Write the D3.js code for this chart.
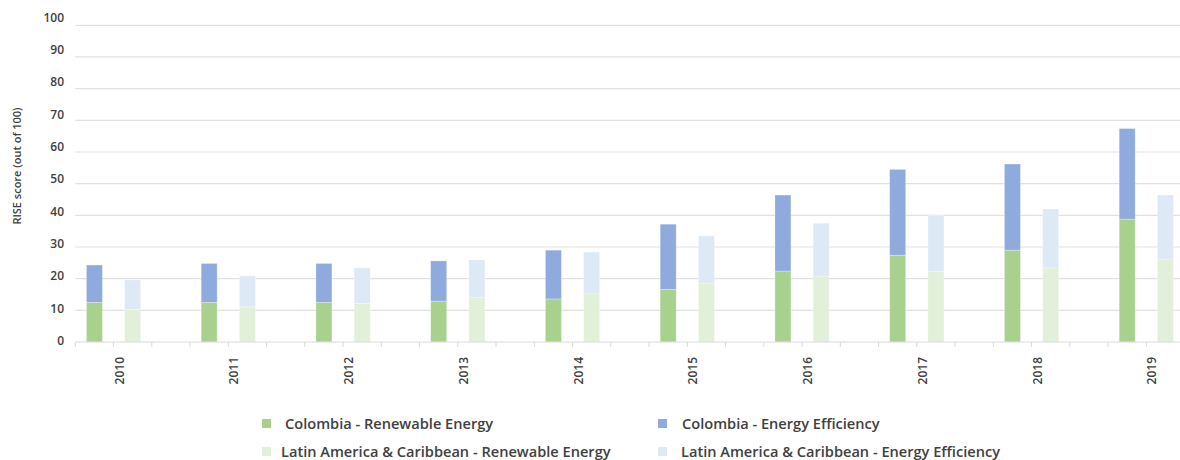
<!DOCTYPE html>
<html>
<head>
<meta charset="utf-8">
<script src="https://cdn.jsdelivr.net/npm/d3@7"></script>
<style>
  html, body { margin: 0; padding: 0; background: #fff; overflow: hidden; }
  svg { display: block; font-family: "Open Sans", "DejaVu Sans", sans-serif; }
</style>
</head>
<body>
<svg id="chart" width="1180" height="460"></svg>
<script>
// ---- Data ----
const years = ["2010","2011","2012","2013","2014","2015","2016","2017","2018","2019"];
const colombiaRenewable  = [12.5, 12.5, 12.5, 12.9, 13.6, 16.6, 22.4, 27.4, 29.0, 38.8];
const colombiaEfficiency = [11.8, 12.3, 12.3, 12.7, 15.4, 20.6, 24.0, 27.1, 27.2, 28.6];
const lacRenewable       = [10.3, 11.1, 12.2, 14.0, 15.2, 18.4, 20.8, 22.2, 23.4, 26.2];
const lacEfficiency      = [ 9.3,  9.8, 11.2, 11.9, 13.2, 15.1, 16.7, 17.8, 18.6, 20.2];
const yTicks = [0,10,20,30,40,50,60,70,80,90,100];
const legendItems = [
  "Colombia - Renewable Energy",
  "Colombia - Energy Efficiency",
  "Latin America & Caribbean - Renewable Energy",
  "Latin America & Caribbean - Energy Efficiency"
];
const yTitle = "RISE score (out of 100)";

// ---- Styles ----
const colors = ["#a9d18e", "#8faadc", "#e2efd9", "#dde9f5"];
const textColor = "#404040";
const gridColor = "#e1e1e1";

const svg = d3.select("#chart");

const left = 75.3, slot = 38.25;
const x0 = d3.scaleBand().domain(years).range([left, left + slot * 3 * years.length]);
const x1 = d3.scaleBand().domain(["col","lac","gap"]).range([0, x0.bandwidth()]);
const y = d3.scaleLinear().domain([0, 100]).range([342, 25.3]);
const yLab = d3.scaleLinear().domain([0, 100]).range([340.5, 17.5]);
const barW = 16;

// gridlines
svg.append("g").selectAll("line").data(yTicks.filter(d => d > 0)).join("line")
  .attr("x1", left).attr("x2", 1185)
  .attr("y1", d => y(d)).attr("y2", d => y(d))
  .attr("stroke", gridColor).attr("stroke-width", 1.2);

// y labels
svg.append("g").selectAll("text").data(yTicks).join("text")
  .attr("x", 64).attr("y", d => yLab(d)).attr("dy", "0.36em")
  .attr("text-anchor", "end")
  .attr("font-size", 12).attr("font-weight", 600).attr("fill", textColor)
  .text(d => d);

// y title
svg.append("text")
  .attr("transform", "translate(21,166) rotate(-90)")
  .attr("text-anchor", "middle")
  .attr("font-size", 11).attr("font-weight", 600).attr("fill", textColor)
  .text(yTitle);

// bars
const stacks = [
  {key: "col", parts: [colombiaRenewable, colombiaEfficiency], cols: [colors[0], colors[1]]},
  {key: "lac", parts: [lacRenewable, lacEfficiency], cols: [colors[2], colors[3]]}
];
const barsG = svg.append("g");
years.forEach((yr, i) => {
  stacks.forEach(s => {
    const cx = x0(yr) + x1(s.key) + x1.bandwidth() / 2;
    let base = 0;
    s.parts.forEach((arr, j) => {
      const v = arr[i];
      barsG.append("rect")
        .attr("x", cx - barW / 2)
        .attr("width", barW)
        .attr("y", y(base + v))
        .attr("height", y(base) - y(base + v))
        .attr("fill", s.cols[j])
        .attr("stroke", "#ffffff").attr("stroke-opacity", 0.35).attr("stroke-width", 0.8);
      base += v;
    });
  });
});

// x axis baseline + ticks
const xAxisG = svg.append("g");
xAxisG.append("line").attr("x1", left).attr("x2", 1185).attr("y1", y(0)).attr("y2", y(0))
  .attr("stroke", "#d9d9d9").attr("stroke-width", 1.2);
const tickXs = [];
years.forEach(yr => x1.domain().forEach(k => tickXs.push(x0(yr) + x1(k))));
xAxisG.selectAll("line.tick").data(tickXs).join("line").attr("class", "tick")
  .attr("x1", d => d).attr("x2", d => d).attr("y1", y(0)).attr("y2", y(0) + 5)
  .attr("stroke", "#d9d9d9").attr("stroke-width", 1);

// year labels
xAxisG.selectAll("text").data(years).join("text")
  .attr("transform", d => `translate(${x0(d) + x1("lac") + 10},357) rotate(-90)`)
  .attr("text-anchor", "end")
  .attr("font-size", 12).attr("font-weight", 600).attr("fill", textColor)
  .text(d => d);

// legend
const legPos = [[262, 424], [658, 424], [262, 452], [658, 452]];
const legTextX = [285, 682, 281, 681];
const lg = svg.append("g");
legendItems.forEach((t, i) => {
  lg.append("rect").attr("x", legPos[i][0]).attr("y", legPos[i][1] - 5)
    .attr("width", 9).attr("height", 9).attr("fill", colors[i]);
  lg.append("text").attr("x", legTextX[i]).attr("y", legPos[i][1]).attr("dy", "0.36em")
    .attr("font-size", 14.6).attr("font-weight", 600).attr("fill", textColor)
    .text(t);
});
</script>
</body>
</html>
